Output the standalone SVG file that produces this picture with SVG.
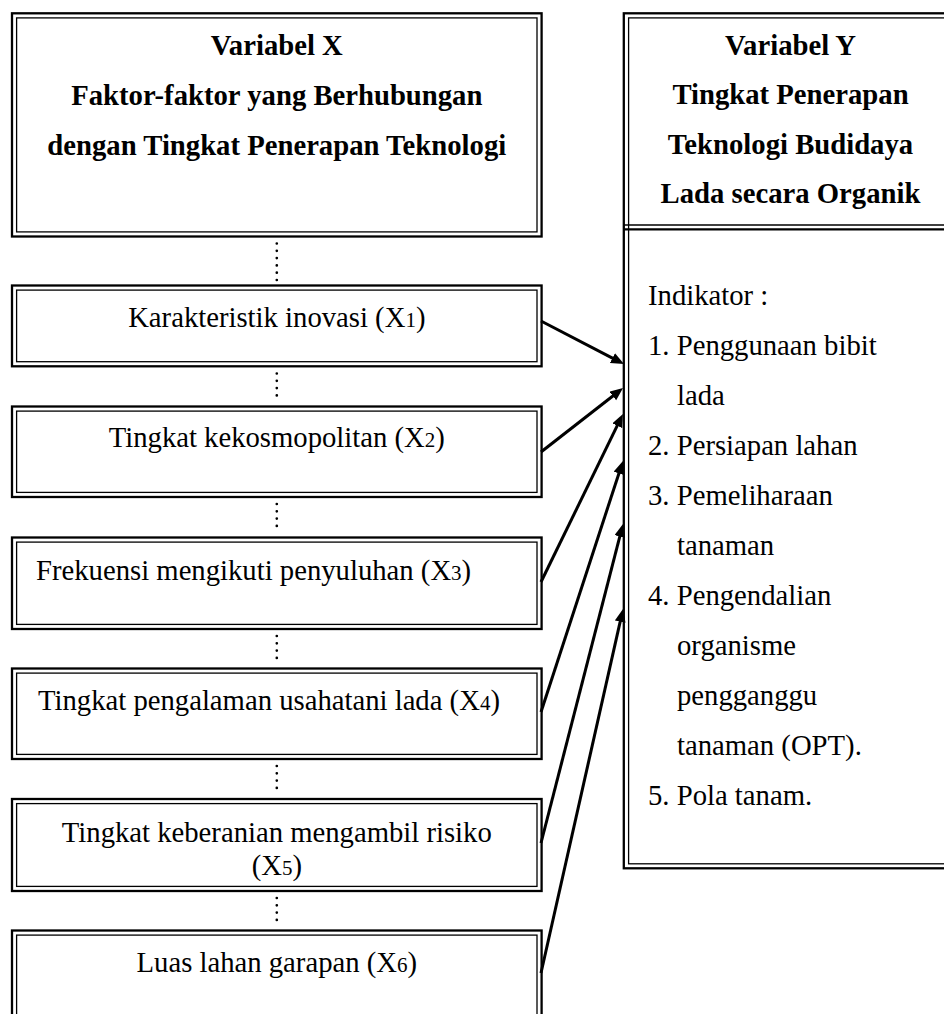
<svg xmlns="http://www.w3.org/2000/svg" width="944" height="1014" viewBox="0 0 944 1014">
<style>
.o{fill:none;stroke:#000;stroke-width:2.3}
.i{fill:none;stroke:#000;stroke-width:1.3}
.t{font-family:"Liberation Serif","Times New Roman",serif;font-size:28.7px;fill:#000}
.b{font-weight:bold}
.c{text-anchor:middle}
.sub{font-size:21px}
.dot{stroke:#000;stroke-width:2.7;stroke-linecap:round;stroke-dasharray:0 7.3;fill:none}
.arr{stroke:#000;stroke-width:3;fill:none;marker-end:url(#ah)}
</style>
<defs>
<marker id="ah" markerUnits="userSpaceOnUse" markerWidth="14" markerHeight="12" refX="7" refY="5.5" orient="auto">
<path d="M0,0 L13,5.5 L0,11 Z" fill="#000"/>
</marker>
</defs>
<rect width="944" height="1014" fill="#fff"/>

<g id="connectors">
<line class="dot" x1="276.8" y1="243.5" x2="276.8" y2="281"/>
<line class="dot" x1="276.8" y1="373.5" x2="276.8" y2="402"/>
<line class="dot" x1="276.8" y1="504" x2="276.8" y2="533"/>
<line class="dot" x1="276.8" y1="636" x2="276.8" y2="664"/>
<line class="dot" x1="276.8" y1="766" x2="276.8" y2="795"/>
<line class="dot" x1="276.8" y1="898" x2="276.8" y2="926"/>
<line class="arr" x1="541" y1="321" x2="618.7" y2="361.3"/>
<line class="arr" x1="541" y1="452" x2="618.3" y2="391.7"/>
<line class="arr" x1="541" y1="582" x2="620.3" y2="419.4"/>
<line class="arr" x1="541" y1="712" x2="621.1" y2="466.7"/>
<line class="arr" x1="541" y1="843" x2="621.5" y2="529.8"/>
<line class="arr" x1="541" y1="973" x2="621.7" y2="614.8"/>
</g>

<g id="variabel-x">
<rect class="o" x="12" y="13.3" width="529.6" height="223.2"/>
<rect class="i" x="16.6" y="17.9" width="520.4" height="214"/>
<text class="t b c" x="276.8" y="55">Variabel X</text>
<text class="t b c" x="276.8" y="105">Faktor-faktor yang Berhubungan</text>
<text class="t b c" x="276.8" y="155">dengan Tingkat Penerapan Teknologi</text>
</g>

<g id="x1">
<rect class="o" x="12" y="285.5" width="529.6" height="80.8"/>
<rect class="i" x="16.6" y="290.1" width="520.4" height="71.6"/>
<text class="t c" x="276.8" y="327">Karakteristik inovasi (X<tspan class="sub">1</tspan>)</text>
</g>

<g id="x2">
<rect class="o" x="12" y="406.5" width="529.6" height="90.5"/>
<rect class="i" x="16.6" y="411.1" width="520.4" height="81.3"/>
<text class="t c" x="276.8" y="447">Tingkat kekosmopolitan (X<tspan class="sub">2</tspan>)</text>
</g>

<g id="x3">
<rect class="o" x="12" y="537.5" width="529.6" height="91.5"/>
<rect class="i" x="16.6" y="542.1" width="520.4" height="82.3"/>
<text class="t" x="36" y="580">Frekuensi mengikuti penyuluhan (X<tspan class="sub">3</tspan>)</text>
</g>

<g id="x4">
<rect class="o" x="12" y="668.5" width="529.6" height="90.5"/>
<rect class="i" x="16.6" y="673.1" width="520.4" height="81.3"/>
<text class="t" x="38" y="710">Tingkat pengalaman usahatani lada (X<tspan class="sub">4</tspan>)</text>
</g>

<g id="x5">
<rect class="o" x="12" y="799" width="529.6" height="92"/>
<rect class="i" x="16.6" y="803.6" width="520.4" height="82.8"/>
<text class="t c" x="276.8" y="842">Tingkat keberanian mengambil risiko</text>
<text class="t c" x="276.8" y="875">(X<tspan class="sub">5</tspan>)</text>
</g>

<g id="x6">
<rect class="o" x="12" y="930.5" width="529.6" height="100"/>
<rect class="i" x="16.6" y="935.1" width="520.4" height="100"/>
<text class="t c" x="276.8" y="972">Luas lahan garapan (X<tspan class="sub">6</tspan>)</text>
</g>

<g id="variabel-y">
<rect class="o" x="623.8" y="13.3" width="333" height="855"/>
<rect class="i" x="628.6" y="17.9" width="323.6" height="845.9"/>
<line class="i" x1="623.8" y1="225" x2="957" y2="225"/>
<line class="o" x1="623.8" y1="229.3" x2="957" y2="229.3"/>
<text class="t b c" x="790.5" y="55">Variabel Y</text>
<text class="t b c" x="790.5" y="104">Tingkat Penerapan</text>
<text class="t b c" x="790.5" y="154">Teknologi Budidaya</text>
<text class="t b c" x="790.5" y="203">Lada secara Organik</text>
<text class="t" x="648" y="305">Indikator :</text>
<text class="t" x="648" y="355">1. Penggunaan bibit</text>
<text class="t" x="677" y="405">lada</text>
<text class="t" x="648" y="455">2. Persiapan lahan</text>
<text class="t" x="648" y="505">3. Pemeliharaan</text>
<text class="t" x="677" y="555">tanaman</text>
<text class="t" x="648" y="605">4. Pengendalian</text>
<text class="t" x="677" y="655">organisme</text>
<text class="t" x="677" y="705">pengganggu</text>
<text class="t" x="677" y="755">tanaman (OPT).</text>
<text class="t" x="648" y="805">5. Pola tanam.</text>
</g>
</svg>
